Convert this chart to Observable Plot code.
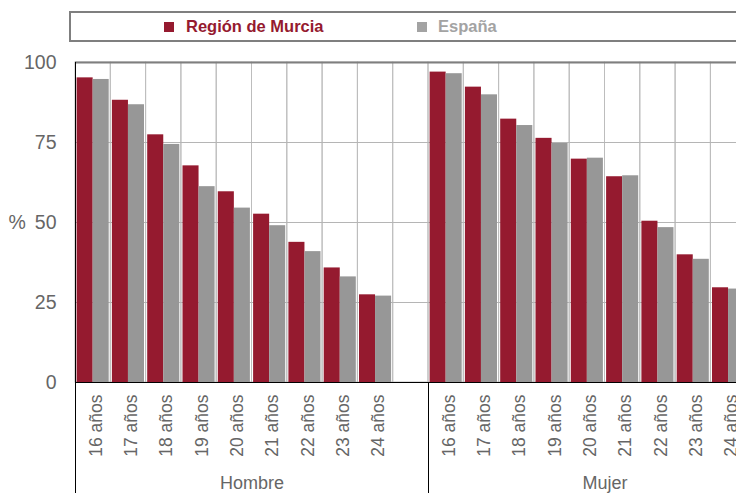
<!DOCTYPE html>
<html><head><meta charset="utf-8">
<script src="https://cdn.jsdelivr.net/npm/d3@7"></script>
<script src="https://cdn.jsdelivr.net/npm/@observablehq/plot@0.6"></script>
<style>
html,body{margin:0;padding:0;background:#fff;overflow:hidden;width:736px;height:493px;}
body{font-family:"Liberation Sans",Arial,sans-serif;}
#legend{position:relative;height:50px;width:736px;overflow:hidden;}
.box{position:absolute;left:69px;top:11px;width:760px;height:27px;border:2px solid #7f7f7f;}
.sw{position:absolute;width:10px;height:10px;top:22px;}
.lt{position:absolute;top:16px;font-size:16.5px;font-weight:bold;line-height:20px;white-space:nowrap;}
#chart{width:736px;overflow:hidden;}
#chart svg{max-width:none !important;display:block;}
</style></head><body>
<div id="legend"><div class="box"></div></div>
<div id="chart"></div>
<script>
const sexes = ["Hombre", "Mujer"];
const ages = ["16 años", "17 años", "18 años", "19 años", "20 años", "21 años", "22 años", "23 años", "24 años"];
const seriesNames = ["Región de Murcia", "España"];
const seriesColors = ["#951a2f", "#979797"];
const murciaHombre = [95.2, 88.2, 77.4, 67.7, 59.6, 52.6, 43.8, 35.8, 27.4];
const espanaHombre = [94.7, 86.8, 74.4, 61.2, 54.5, 49.0, 40.9, 33.0, 27.0];
const murciaMujer = [97.0, 92.3, 82.3, 76.3, 69.8, 64.3, 50.4, 39.9, 29.6];
const espanaMujer = [96.5, 89.9, 80.3, 74.7, 70.1, 64.6, 48.4, 38.5, 29.2];
const yTicks = [0, 25, 50, 75, 100];
const yLabel = "%";
const blankSlot = " ";

// legend
const legend = document.getElementById("legend");
const legendX = [[164, 186], [417, 438]];
seriesNames.forEach((name, i) => {
  const c = i === 0 ? seriesColors[0] : "#a3a3a3";
  const sw = document.createElement("div");
  sw.className = "sw"; sw.style.left = legendX[i][0] + "px"; sw.style.background = c;
  const t = document.createElement("div");
  t.className = "lt"; t.style.left = legendX[i][1] + "px"; t.style.color = c;
  t.textContent = name;
  legend.appendChild(sw); legend.appendChild(t);
});

const rowsFor = (sex, vals) => ages.map((a, j) => ({sex, age: a, value: vals[j]}));
const murciaRows = [...rowsFor("Hombre", murciaHombre), ...rowsFor("Mujer", murciaMujer)];
const espanaRows = [...rowsFor("Hombre", espanaHombre), ...rowsFor("Mujer", espanaMujer)];

const W = 800, H = 443, ML = 75, MR = 19, MT = 12, MB = 111;
const slots = [...ages, blankSlot];
const bw = (W - ML - MR) / sexes.length / slots.length;
const txt = "#666";

const chart = Plot.plot({
  width: W, height: H,
  marginLeft: ML, marginRight: MR, marginTop: MT, marginBottom: MB,
  style: {fontFamily: '"Liberation Sans", Arial, sans-serif', background: "#fff", overflow: "visible"},
  fx: {domain: sexes, padding: 0, round: false},
  x: {domain: slots, padding: 0, round: false},
  y: {domain: [0, 100]},
  marks: [
    Plot.cell(slots, {x: d => d, fill: "none", stroke: "#bdbdbd", inset: 0}),
    Plot.gridY(yTicks.slice(1, 4), {stroke: "#b5b5b5", strokeOpacity: 1}),
    Plot.barY(murciaRows, {fx: "sex", x: "age", y: "value", fill: seriesColors[0], insetLeft: 1.6, insetRight: bw / 2}),
    Plot.barY(espanaRows, {fx: "sex", x: "age", y: "value", fill: seriesColors[1], insetLeft: bw / 2, insetRight: 1.6}),
    Plot.ruleY([100], {stroke: "#7f7f7f", strokeWidth: 2}),
    Plot.ruleY([0], {stroke: "#000"}),
    Plot.ruleX([sexes[0]], {fx: d => d, x: () => ages[0], y1: 100, y2: 0, dx: -bw / 2, insetBottom: -MB, stroke: "#000"}),
    Plot.ruleX([sexes[1]], {fx: d => d, x: () => ages[0], y1: 0, y2: 0, dx: -bw / 2, insetBottom: -MB, stroke: "#000"}),
    Plot.axisY({ticks: yTicks, tickSize: 0, tickPadding: 19, fontSize: 19.5, color: txt, label: null}),
    Plot.text([yLabel], {fx: () => sexes[0], frameAnchor: "left", y: () => yTicks[2], dx: -67, textAnchor: "start", fontSize: 19.5, fill: txt}),
    Plot.axisX({anchor: "bottom", tickRotate: -90, tickSize: 0, tickPadding: 12, dx: 3, fontSize: 17.5, color: txt, label: null}),
    Plot.axisFx({anchor: "bottom", tickSize: 0, tickPadding: 0, dy: 94, fontSize: 18, color: txt, label: null})
  ]
});
document.getElementById("chart").appendChild(chart);
</script>
</body></html>
